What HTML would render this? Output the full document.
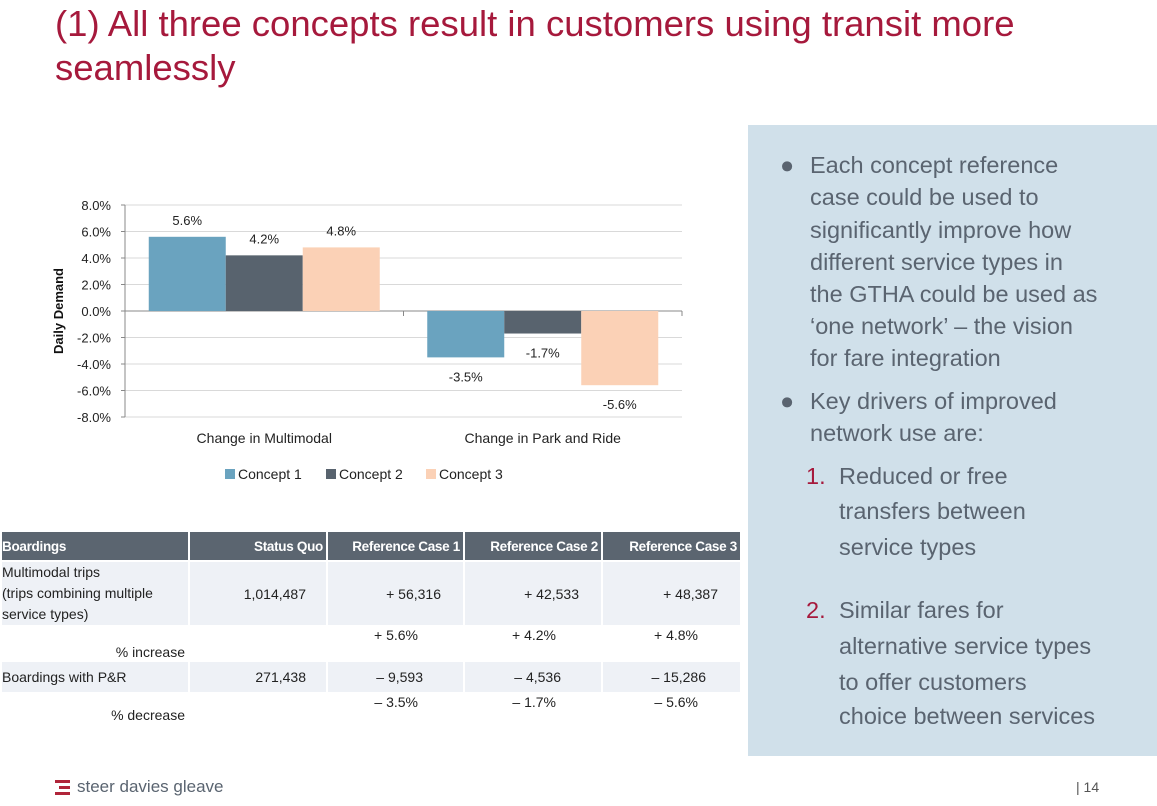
<!DOCTYPE html>
<html><head><meta charset="utf-8"><style>
body{margin:0;width:1157px;height:806px;overflow:hidden;background:#fff;font-family:"Liberation Sans",sans-serif;position:relative}
.t{position:absolute;white-space:nowrap}
.title{left:55px;color:#a6193c;font-size:36.5px;line-height:44px}
.panel{position:absolute;left:748px;top:125px;width:409px;height:631px;background:#d0e0ea}
.pl{position:absolute;font-size:23.5px;color:#5a6470;white-space:nowrap;line-height:32px}
table{position:absolute;left:0;top:530px;border-collapse:collapse;font-size:14px;color:#222;table-layout:fixed;width:740px}
td,th{border:2px solid #fff;padding:0 3px;overflow:hidden;white-space:nowrap}
th{background:#5b6570;color:#fff;height:28px;text-align:right;font-weight:bold;font-size:13.5px;letter-spacing:-0.3px}
tr.l td{background:#eef1f6}
</style></head><body>
<div class="t title" style="top:2px">(1) All three concepts result in customers using transit more<br>seamlessly</div>

<svg id="chart" width="740" height="500" style="position:absolute;left:0;top:0" font-family="Liberation Sans, sans-serif"></svg>

<table>
<colgroup><col style="width:188px"><col style="width:138px"><col style="width:137px"><col style="width:138px"><col style="width:139px"></colgroup>
<tr><th style="text-align:left;padding-left:0">Boardings</th><th>Status Quo</th><th>Reference Case 1</th><th>Reference Case 2</th><th>Reference Case 3</th></tr>
<tr class="l" style="height:62px"><td style="line-height:21px;padding-left:0">Multimodal trips<br>(trips combining multiple<br>service types)</td><td style="text-align:right;padding-right:20px">1,014,487</td><td style="text-align:right;padding-right:22px">+ 56,316</td><td style="text-align:right;padding-right:22px">+ 42,533</td><td style="text-align:right;padding-right:22px">+ 48,387</td></tr>
<tr style="height:35px"><td style="text-align:right;vertical-align:bottom">% increase</td><td></td><td style="text-align:right;padding-right:45px;vertical-align:top">+ 5.6%</td><td style="text-align:right;padding-right:45px;vertical-align:top">+ 4.2%</td><td style="text-align:right;padding-right:42px;vertical-align:top">+ 4.8%</td></tr>
<tr class="l" style="height:32px"><td style="padding-left:0">Boardings with P&amp;R</td><td style="text-align:right;padding-right:20px">271,438</td><td style="text-align:right;padding-right:40px">– 9,593</td><td style="text-align:right;padding-right:40px">– 4,536</td><td style="text-align:right;padding-right:34px">– 15,286</td></tr>
<tr style="height:31px"><td style="text-align:right;vertical-align:bottom">% decrease</td><td></td><td style="text-align:right;padding-right:45px;vertical-align:top">– 3.5%</td><td style="text-align:right;padding-right:45px;vertical-align:top">– 1.7%</td><td style="text-align:right;padding-right:42px;vertical-align:top">– 5.6%</td></tr>
</table>

<div class="panel"></div>
<div>
<div class="pl" style="left:780px;top:149px">●</div>
<div class="pl" style="left:810px;top:149px">Each concept reference</div>
<div class="pl" style="left:810px;top:181px">case could be used to</div>
<div class="pl" style="left:810px;top:214px">significantly improve how</div>
<div class="pl" style="left:810px;top:246px">different service types in</div>
<div class="pl" style="left:810px;top:278px">the GTHA could be used as</div>
<div class="pl" style="left:810px;top:310px">‘one network’ – the vision</div>
<div class="pl" style="left:810px;top:342px">for fare integration</div>
<div class="pl" style="left:780px;top:385px">●</div>
<div class="pl" style="left:810px;top:385px">Key drivers of improved</div>
<div class="pl" style="left:810px;top:417px">network use are:</div>
<div class="pl" style="left:806px;top:460px;color:#a6193c">1.</div>
<div class="pl" style="left:839px;top:460px">Reduced or free</div>
<div class="pl" style="left:839px;top:495px">transfers between</div>
<div class="pl" style="left:839px;top:531px">service types</div>
<div class="pl" style="left:806px;top:594px;color:#a6193c">2.</div>
<div class="pl" style="left:839px;top:594px">Similar fares for</div>
<div class="pl" style="left:839px;top:630px">alternative service types</div>
<div class="pl" style="left:839px;top:666px">to offer customers</div>
<div class="pl" style="left:839px;top:700px">choice between services</div>
</div>

<div style="position:absolute;left:55px;top:779px">
<svg width="16" height="18" style="position:absolute;left:0;top:0"><rect x="0" y="1" width="15" height="3" fill="#b0253a"/><rect x="4" y="7" width="11" height="3" fill="#b0253a"/><rect x="0" y="13" width="15" height="3" fill="#b0253a"/></svg>
<div class="t" style="left:22px;top:-2px;font-size:17px;color:#5a6470">steer davies gleave</div></div>
<div class="t" style="left:1076px;top:779px;font-size:14px;color:#555">| 14</div>

<script>
const categories=["Change in Multimodal","Change in Park and Ride"];
const seriesNames=["Concept 1","Concept 2","Concept 3"];
const concept1=[5.6,-3.5];
const concept2=[4.2,-1.7];
const concept3=[4.8,-5.6];
const yTicks=[8,6,4,2,0,-2,-4,-6,-8];
const colors=["#6aa3bf","#58636e","#fbd1b6"];
const ns="http://www.w3.org/2000/svg";
const svg=document.getElementById('chart');
const X0=125,X1=682,Y8=205,Ym8=417;
const y=v=>Y8+(8-v)*(Ym8-Y8)/16;
const catW=(X1-X0)/categories.length, barW=77;
function mk(tag,attrs,text){const e=document.createElementNS(ns,tag);for(const k in attrs)e.setAttribute(k,attrs[k]);if(text!==undefined)e.textContent=text;svg.appendChild(e);return e;}
yTicks.forEach(t=>{
 const g=mk('line',{x1:X0,x2:X1,y1:y(t),y2:y(t),stroke:t===0?'#888':'#d9d9d9','stroke-width':1});
 
 
 const tx=mk('text',{x:111,y:y(t)+5,'text-anchor':'end','font-size':13,fill:'#222'},t.toFixed(1)+'%');
 
 
 mk('line',{x1:X0-4,x2:X0,y1:y(t),y2:y(t),stroke:'#888'});
});
mk('line',{x1:X0,x2:X0,y1:Y8,y2:Ym8,stroke:'#888'});
[0,1,2].forEach(i=>mk('line',{x1:X0+i*catW,x2:X0+i*catW,y1:y(0),y2:y(0)+5,stroke:'#888'}));
const yt=mk('text',{x:0,y:0,transform:'translate(63,311) rotate(-90)','text-anchor':'middle','font-size':13,'font-weight':'bold',fill:'#111'},'Daily Demand');


const all=[concept1,concept2,concept3];
categories.forEach((c,ci)=>{
 const gx=X0+ci*catW+(catW-3*barW)/2;
 all.forEach((s,si)=>{
  const v=s[ci],bx=gx+si*barW;
  const r=mk('rect',{x:bx,y:Math.min(y(v),y(0)),width:barW,height:Math.abs(y(v)-y(0)),fill:colors[si]});
  
  
  const ly=v>=0?y(v)-12:y(v)+24;
  const l=mk('text',{x:bx+barW/2,y:ly,'text-anchor':'middle','font-size':13,fill:'#222'},v.toFixed(1)+'%');
  
  
 });
 const cl=mk('text',{x:X0+ci*catW+catW/2,y:443,'text-anchor':'middle','font-size':14,fill:'#222'},c);
 
 
});
const lx=[225,326,426];
seriesNames.forEach((n,i)=>{
 const r=mk('rect',{x:lx[i],y:469,width:10,height:10,fill:colors[i]});
 
 
 const t=mk('text',{x:lx[i]+13,y:479,'font-size':14,fill:'#222'},n);
 
 
});
</script>
</body></html>
